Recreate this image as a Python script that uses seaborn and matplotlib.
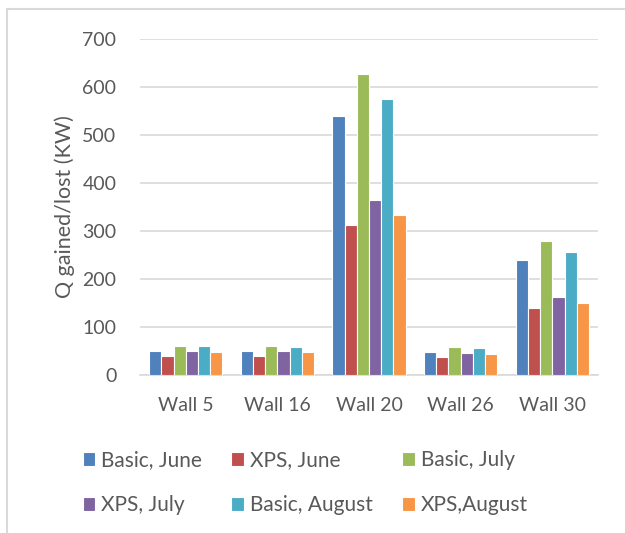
import matplotlib
matplotlib.use("Agg")
import matplotlib.pyplot as plt
import pandas as pd
import seaborn as sns
from matplotlib.patches import Rectangle

sns.set_theme(style="white")
plt.rcParams["font.family"] = ["Lato", "DejaVu Sans"]

WALLS = ["Wall 5", "Wall 16", "Wall 20", "Wall 26", "Wall 30"]
SERIES = ["Basic, June", "XPS, June", "Basic, July", "XPS, July", "Basic, August", "XPS,August"]
COLORS = ["#4F81BD", "#C0504D", "#9BBB59", "#8064A2", "#4BACC6", "#F79646"]

basic_june = [51, 50, 540, 48, 240]
xps_june = [40, 40, 313, 38, 140]
basic_july = [61, 61, 627, 58, 279]
xps_july = [49, 49, 364, 46, 163]
basic_august = [60, 58, 575, 56, 256]
xps_august = [47, 47, 333, 44, 149]

values = [basic_june, xps_june, basic_july, xps_july, basic_august, xps_august]
rows = []
for name, vals in zip(SERIES, values):
    for wall, v in zip(WALLS, vals):
        rows.append({"wall": wall, "series": name, "q": v})
df = pd.DataFrame(rows)

TEXT = "#595959"
GRID = "#D9D9D9"

fig = plt.figure(figsize=(6.25, 5.33), dpi=100)
ax = fig.add_axes([0.224, 0.2964, 0.733, 0.6304])

sns.barplot(data=df, x="wall", y="q", hue="series", order=WALLS, hue_order=SERIES,
            palette=COLORS, width=0.8, edgecolor="white", linewidth=0.8,
            saturation=1, ax=ax, legend=True, zorder=3)

ax.set_ylim(0, 700)
ax.set_yticks(range(0, 701, 100))
ax.yaxis.grid(True, color=GRID, linewidth=1.2, zorder=0)
ax.set_axisbelow(True)
for side in ["top", "right", "left"]:
    ax.spines[side].set_visible(False)
ax.spines["bottom"].set_color(GRID)
ax.spines["bottom"].set_linewidth(1.2)
ax.tick_params(axis="both", length=0, labelsize=14, colors=TEXT)
ax.tick_params(axis="y", pad=17)
ax.tick_params(axis="x", pad=16)
ax.set_xlabel("")
ax.set_ylabel("Q gained/lost (KW)", fontsize=15.5, color=TEXT, labelpad=5)

# legend, row-major order like the original
handles, labels = ax.get_legend_handles_labels()
ax.get_legend().remove()
order = [0, 3, 1, 4, 2, 5]
fig.legend([handles[i] for i in order], [labels[i] for i in order],
           loc="upper left", bbox_to_anchor=(0.132, 0.155), ncol=3, frameon=False,
           fontsize=15, labelcolor=TEXT, handlelength=0.6, handleheight=0.6,
           handletextpad=0.3, columnspacing=1.4, labelspacing=1.2,
           borderaxespad=0, borderpad=0)

fig.patches.append(Rectangle((7 / 625, -0.1), 1.2, 0.1 + (533 - 9) / 533,
                             transform=fig.transFigure, fill=False,
                             edgecolor=GRID, linewidth=1.5))

fig.savefig("out.png", dpi=100)
